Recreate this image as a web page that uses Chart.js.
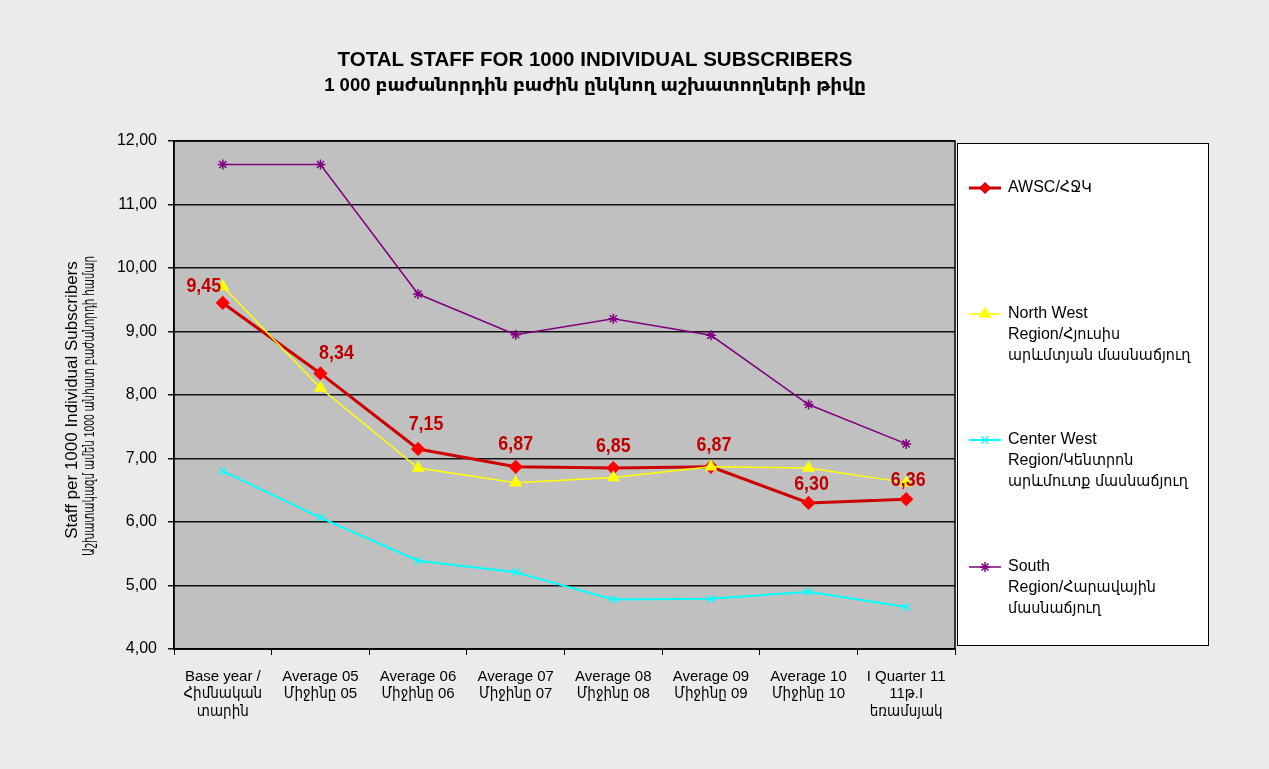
<!DOCTYPE html>
<html>
<head>
<meta charset="utf-8">
<script src="https://cdn.jsdelivr.net/npm/chart.js@4"></script>
<style>
  html, body { margin: 0; padding: 0; background: #ebebeb; }
  #wrap { width: 1269px; height: 769px; position: relative; }
</style>
</head>
<body>
<div id="wrap"><canvas id="staffChart"></canvas></div>
<script>
// categories (multi-line labels)
const categories = [
    ['Base year /', 'Հիմնական', 'տարին'],
    ['Average 05', 'Միջինը 05'],
    ['Average 06', 'Միջինը 06'],
    ['Average 07', 'Միջինը 07'],
    ['Average 08', 'Միջինը 08'],
    ['Average 09', 'Միջինը 09'],
    ['Average 10', 'Միջինը 10'],
    ['I Quarter 11', '11թ.I', 'եռամսյակ']
];

const awsc = [9.45, 8.34, 7.15, 6.87, 6.85, 6.87, 6.30, 6.36];
const northWest = [9.71, 8.11, 6.85, 6.62, 6.70, 6.87, 6.85, 6.62];
const centerWest = [6.80, 6.07, 5.39, 5.21, 4.78, 4.79, 4.90, 4.66];
const south = [11.63, 11.63, 9.59, 8.95, 9.20, 8.94, 7.85, 7.23];

const yTicks = [4, 5, 6, 7, 8, 9, 10, 11, 12];

const titleLines = [
    'TOTAL STAFF FOR 1000 INDIVIDUAL SUBSCRIBERS',
    '1 000 բաժանորդին բաժին ընկնող աշխատողների թիվը'
];
const yTitle = [
    'Staff per 1000 Individual Subscribers',
    'Աշխատակազմ ամեն 1000 անհատ բաժանորդի համար'
];

const legendItems = [
    { lines: ['AWSC/ՀՋԿ'], color: '#cc0000', fill: '#ff0000', style: 'rectRot', radius: 5, width: 3 },
    { lines: ['North West', 'Region/Հյուսիս', 'արևմտյան մասնաճյուղ'], color: '#ffff00', fill: '#ffff00', style: 'triangle', radius: 6, width: 1.5 },
    { lines: ['Center West', 'Region/Կենտրոն', 'արևմուտք մասնաճյուղ'], color: '#00ffff', fill: '#00ffff', style: 'crossRot', radius: 5, width: 2 },
    { lines: ['South', 'Region/Հարավային', 'մասնաճյուղ'], color: '#800080', fill: '#800080', style: 'star', radius: 5, width: 1.5 }
];

// where each AWSC value label sits relative to its point
const labelOffsets = [[-19, -17], [16, -20], [8, -25], [0, -23], [0, -22], [3, -22], [3, -19], [2, -19]];

const FONT = "'Liberation Sans', 'DejaVu Sans Condensed', Arial, sans-serif";
const TITLE_FONT = "'Liberation Sans', 'DejaVu Sans', Arial, sans-serif";

const fmt = v => v.toFixed(2).replace('.', ',');

// text squeezed along its own direction to a given width (Excel used narrow fonts)
function fitText(ctx, text, x, y, maxW) {
    const w = ctx.measureText(text).width;
    const s = Math.min(1, maxW / w);
    ctx.save();
    ctx.translate(x, y);
    ctx.scale(s, 1);
    ctx.fillText(text, 0, 0);
    ctx.restore();
}

const backdrop = {
    id: 'backdrop',
    beforeDraw(chart) {
        const ctx = chart.ctx, a = chart.chartArea;
        ctx.save();
        ctx.fillStyle = '#ebebeb';
        ctx.fillRect(0, 0, chart.width, chart.height);
        ctx.fillStyle = '#c0c0c0';
        ctx.fillRect(a.left, a.top, a.right - a.left, a.bottom - a.top);
        ctx.restore();
    },
    afterDatasetsDraw(chart) {
        const ctx = chart.ctx, a = chart.chartArea;
        ctx.save();
        ctx.strokeStyle = '#000';
        ctx.lineWidth = 1.5;
        ctx.strokeRect(a.left, a.top, a.right - a.left, a.bottom - a.top);

        // value labels on the AWSC line
        const meta = chart.getDatasetMeta(0);
        ctx.font = 'bold 21px ' + FONT;
        ctx.fillStyle = '#c00000';
        ctx.textAlign = 'center';
        ctx.textBaseline = 'middle';
        meta.data.forEach((pt, i) => {
            const off = labelOffsets[i];
            ctx.save();
            ctx.translate(pt.x + off[0], pt.y + off[1]);
            ctx.scale(0.85, 1);
            ctx.fillText(fmt(awsc[i]), 0, 0);
            ctx.restore();
        });
        ctx.restore();
    },
    afterDraw(chart) {
        const ctx = chart.ctx;
        ctx.save();
        // title
        ctx.fillStyle = '#000';
        ctx.textAlign = 'center';
        ctx.textBaseline = 'middle';
        ctx.font = 'bold 20.5px ' + TITLE_FONT;
        ctx.fillText(titleLines[0], 595, 60);
        ctx.font = 'bold 18.5px ' + TITLE_FONT;
        ctx.fillText(titleLines[1], 595, 86);

        // y axis title, two rotated lines
        ctx.save();
        ctx.translate(0, 400);
        ctx.rotate(-Math.PI / 2);
        ctx.font = '17px ' + TITLE_FONT;
        fitText(ctx, yTitle[0], 0, 72, 280);
        ctx.font = '15px ' + TITLE_FONT;
        fitText(ctx, yTitle[1], -6, 90, 300);
        ctx.restore();

        // legend box
        const lx = 957, ly = 143, lw = 251, lh = 502;
        ctx.fillStyle = '#fff';
        ctx.fillRect(lx, ly, lw, lh);
        ctx.strokeStyle = '#000';
        ctx.lineWidth = 1;
        ctx.strokeRect(lx + 0.5, ly + 0.5, lw, lh);

        const rowsY = [188, 314, 440, 567];
        ctx.font = '16px ' + FONT;
        ctx.textAlign = 'left';
        legendItems.forEach((item, k) => {
            const y = rowsY[k];
            ctx.strokeStyle = item.color;
            ctx.lineWidth = item.width;
            ctx.beginPath();
            ctx.moveTo(969, y);
            ctx.lineTo(1001, y);
            ctx.stroke();
            ctx.fillStyle = item.fill;
            ctx.lineWidth = 1.5;
            Chart.helpers.drawPoint(ctx, { pointStyle: item.style, radius: item.radius, rotation: 0, borderWidth: 1.5 }, 985, y);
            ctx.fillStyle = '#000';
            item.lines.forEach((t, j) => fitText(ctx, t, 1008, y + j * 21, 188));
        });
        ctx.restore();
    }
};

const ctx = document.getElementById('staffChart').getContext('2d');

new Chart(ctx, {
    type: 'line',
    data: {
        labels: categories,
        datasets: [
            {
                label: 'AWSC/ՀՋԿ',
                data: awsc,
                borderColor: '#cc0000',
                backgroundColor: '#ff0000',
                borderWidth: 3,
                pointStyle: 'rectRot',
                pointRadius: 5,
                pointBorderColor: '#ff0000',
                pointBackgroundColor: '#ff0000',
                order: 4
            },
            {
                label: 'North West',
                data: northWest,
                borderColor: '#ffff00',
                backgroundColor: '#ffff00',
                borderWidth: 1.5,
                pointStyle: 'triangle',
                pointRadius: 6,
                pointBorderColor: '#ffff00',
                pointBackgroundColor: '#ffff00',
                order: 3
            },
            {
                label: 'Center West',
                data: centerWest,
                borderColor: '#00ffff',
                backgroundColor: '#00ffff',
                borderWidth: 2,
                pointStyle: 'crossRot',
                pointRadius: 5,
                pointBorderWidth: 1.5,
                pointBorderColor: '#00ffff',
                order: 2
            },
            {
                label: 'South',
                data: south,
                borderColor: '#800080',
                backgroundColor: '#800080',
                borderWidth: 1.5,
                pointStyle: 'star',
                pointRadius: 5,
                pointBorderWidth: 1.5,
                pointBorderColor: '#800080',
                order: 1
            }
        ]
    },
    options: {
        responsive: true,
        maintainAspectRatio: false,
        animation: false,
        layout: { padding: { left: 0, right: 314, top: 141, bottom: 0 } },
        elements: { line: { tension: 0 } },
        scales: {
            x: {
                offset: true,
                grid: {
                    offset: true,
                    drawOnChartArea: false,
                    drawTicks: true,
                    tickLength: 6,
                    color: '#000',
                    lineWidth: 1
                },
                border: { display: true, color: '#000', width: 1.5 },
                ticks: {
                    autoSkip: false,
                    maxRotation: 0,
                    padding: 13,
                    color: '#000',
                    font: { family: FONT, size: 15, lineHeight: 1.17 }
                },
                afterFit(scale) { scale.height = 120; }
            },
            y: {
                min: 4,
                max: 12,
                afterBuildTicks(scale) { scale.ticks = yTicks.map(v => ({ value: v })); },
                grid: {
                    color: '#111',
                    lineWidth: 1.5,
                    tickLength: 6
                },
                border: { display: true, color: '#000', width: 1.5 },
                ticks: {
                    padding: 11,
                    color: '#000',
                    font: { family: FONT, size: 16 },
                    callback: v => fmt(v)
                },
                afterFit(scale) { scale.width = 174; }
            }
        },
        plugins: {
            legend: { display: false },
            title: { display: false },
            tooltip: { enabled: false }
        }
    },
    plugins: [backdrop]
});
</script>
</body>
</html>
